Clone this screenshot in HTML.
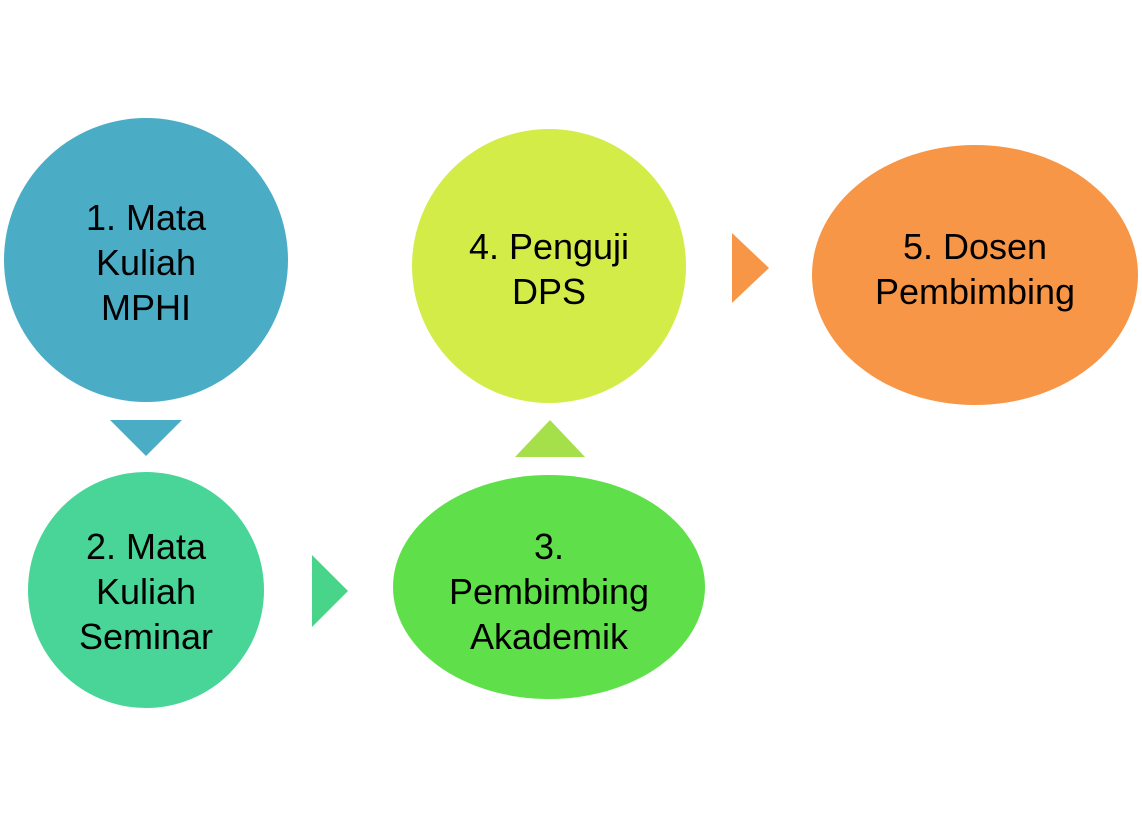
<!DOCTYPE html>
<html><head><meta charset="utf-8"><style>html,body{margin:0;padding:0;background:#fff}svg{display:block}</style></head>
<body>
<svg width="1142" height="829" viewBox="0 0 1142 829" xmlns="http://www.w3.org/2000/svg" font-family="'Liberation Sans', sans-serif" font-size="36" fill="#000">
<ellipse cx="146" cy="260" rx="142" ry="142" fill="#4BACC6"/>
<polygon points="110,420 182,420 146,456" fill="#4BACC6"/>
<ellipse cx="146" cy="590" rx="118" ry="118" fill="#48D597"/>
<polygon points="312,555 348,591 312,627" fill="#48D58A"/>
<ellipse cx="549" cy="587" rx="156" ry="112" fill="#5FE04A"/>
<polygon points="515,457 585,457 550,420" fill="#A5E04A"/>
<ellipse cx="549" cy="266" rx="137" ry="137" fill="#D4EC48"/>
<polygon points="732,233 769,268 732,303" fill="#F79646"/>
<ellipse cx="975" cy="275" rx="163" ry="130" fill="#F79646"/>
<g text-anchor="middle">
<text x="146" y="230">1. Mata</text><text x="146" y="275">Kuliah</text><text x="146" y="320">MPHI</text>
<text x="146" y="559">2. Mata</text><text x="146" y="604">Kuliah</text><text x="146" y="649">Seminar</text>
<text x="549" y="559">3.</text><text x="549" y="604">Pembimbing</text><text x="549" y="649">Akademik</text>
<text x="549" y="259">4. Penguji</text><text x="549" y="304">DPS</text>
<text x="975" y="259">5. Dosen</text><text x="975" y="304">Pembimbing</text>
</g>
</svg>
</body></html>
